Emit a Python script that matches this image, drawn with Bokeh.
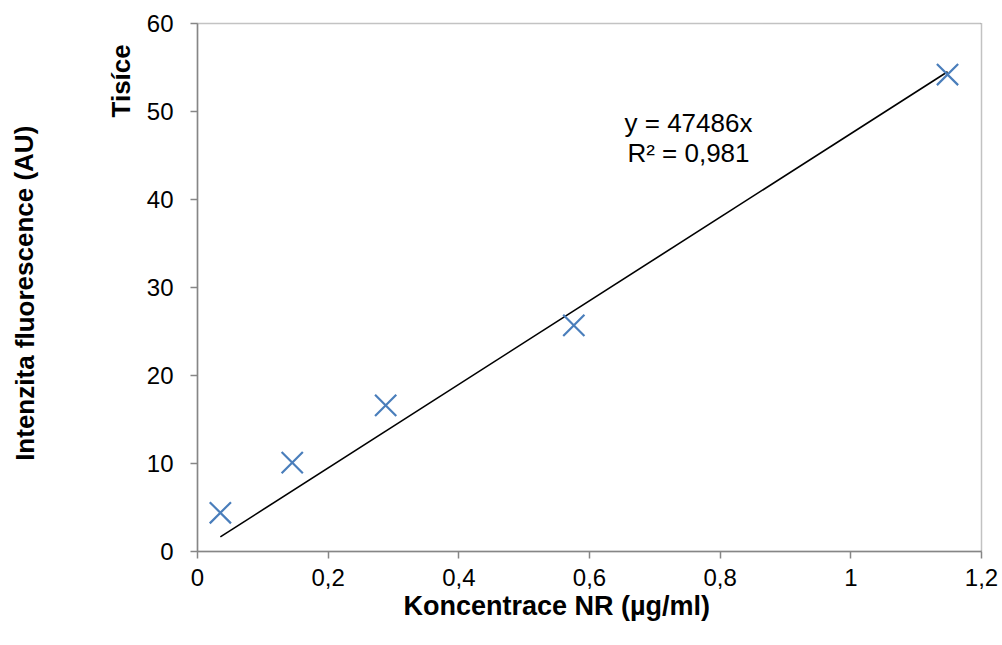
from bokeh.plotting import figure
from bokeh.models import Range1d, FixedTicker, Label, Title
from bokeh.layouts import row
from bokeh.embed import file_html
from bokeh.resources import INLINE

# Data (concentration µg/ml, fluorescence in thousands)
conc = [0.035, 0.145, 0.288, 0.576, 1.148]
intensity = [4.4, 10.1, 16.6, 25.7, 54.2]
slope = 47486  # trendline y = 47486x
x_ticks = [0, 0.2, 0.4, 0.6, 0.8, 1, 1.2]
x_tick_labels = ["0", "0,2", "0,4", "0,6", "0,8", "1", "1,2"]
y_ticks = [0, 10, 20, 30, 40, 50, 60]

FONT = "Liberation Sans"
AX = "#868686"
H = 640
TW = 60  # width of the strip holding the y-axis title

# strip with the main y-axis title
t = figure(width=TW, height=H, output_backend="svg", toolbar_location=None,
           x_range=Range1d(0, TW), y_range=Range1d(0, H),
           x_axis_location=None, y_axis_location=None,
           min_border=0, min_border_left=0, min_border_right=0,
           min_border_top=0, min_border_bottom=0)
t.outline_line_color = None
t.xgrid.visible = False
t.ygrid.visible = False
t.add_layout(Label(x=24, y=H - 327, text="Intenzita fluorescence (AU)", angle=1.5708,
                   text_align="center", text_baseline="middle", text_font=FONT,
                   text_font_size="26px", text_font_style="bold", text_color="black"))

p = figure(width=1000 - TW, height=H, output_backend="svg", toolbar_location=None,
           x_range=Range1d(0, 1.2), y_range=Range1d(0, 60),
           min_border_left=197 - TW, min_border_right=19, min_border_top=23, min_border_bottom=89)
p.xgrid.visible = False
p.ygrid.visible = False
p.outline_line_color = AX
p.outline_line_dash = "1 1"
p.outline_line_width = 1.5

for ax in (p.xaxis[0], p.yaxis[0]):
    ax.axis_line_color = AX
    ax.axis_line_width = 1.5
    ax.major_tick_line_color = AX
    ax.major_tick_line_width = 1.5
    ax.major_tick_out = 7
    ax.major_tick_in = 0
    ax.minor_tick_line_color = None
    ax.major_label_text_font = FONT
    ax.major_label_text_font_size = "24px"
    ax.major_label_text_color = "black"

p.xaxis.ticker = FixedTicker(ticks=x_ticks)
p.xaxis.major_label_overrides = {t_: l for t_, l in zip(x_ticks, x_tick_labels)}
p.xaxis.major_label_standoff = 10
p.yaxis.ticker = FixedTicker(ticks=y_ticks)
p.yaxis.major_label_standoff = 17

# trendline
tx = [min(conc), max(conc)]
ty = [slope * v / 1000 for v in tx]
p.line(tx, ty, line_color="black", line_width=1.6)

p.scatter(conc, intensity, marker="x", size=30, line_color="#4A7EBB", line_width=2.2)

for yy, txt in ((48.75, "y = 47486x"), (45.34, "R² = 0,981")):
    p.add_layout(Label(x=0.7515, y=yy, text=txt, text_align="center", text_baseline="middle",
                       text_font=FONT, text_font_size="26px", text_color="black"))

def side_title(text, loc, offset, standoff, size="26px"):
    p.add_layout(Title(text=text, align="left", offset=offset, standoff=standoff,
                       text_font=FONT, text_font_size=size, text_font_style="bold",
                       text_color="black"), loc)

side_title("Koncentrace NR (µg/ml)", "below", 206, 1, "27px")
side_title("Tisíce", "left", 434, 15)

layout = row(t, p)
open("out.html", "w").write(file_html(layout, INLINE))
